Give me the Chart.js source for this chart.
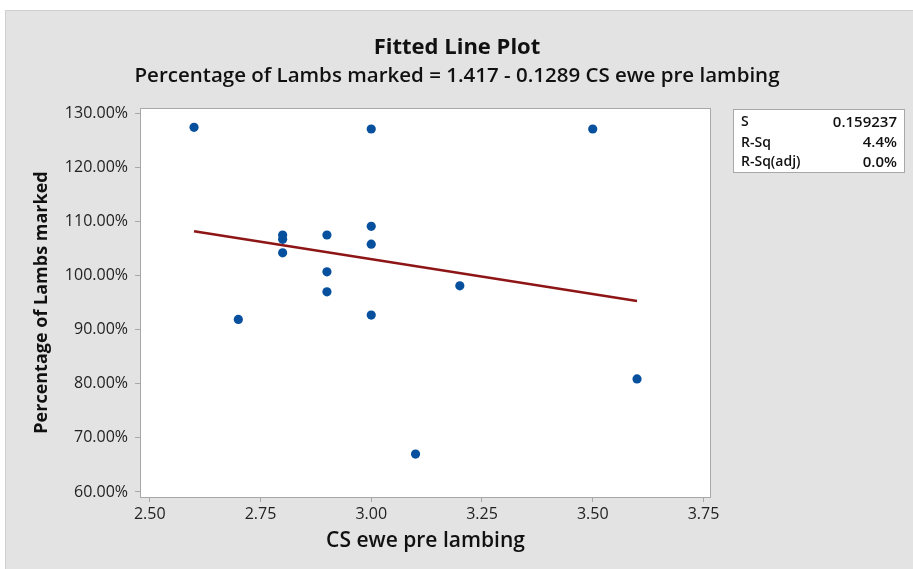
<!DOCTYPE html>
<html>
<head>
<meta charset="utf-8">
<script src="https://cdn.jsdelivr.net/npm/chart.js@4/dist/chart.umd.min.js"></script>
<style>
  html, body { margin: 0; padding: 0; background: #ffffff; }
  #c { display: block; }
</style>
</head>
<body>
<canvas id="c" width="913" height="569"></canvas>
<script>
// Condition score of ewes before lambing vs. share of lambs marked
const csEwe = [2.6, 2.7, 2.8, 2.8, 2.8, 2.9, 2.9, 2.9, 3.0, 3.0, 3.0, 3.0, 3.1, 3.2, 3.5, 3.6];
const lambsMarked = [1.274, 0.919, 1.075, 1.067, 1.042, 1.075, 1.007, 0.970, 1.271, 1.091, 1.058, 0.927, 0.670, 0.981, 1.271, 0.809];

// Regression line coefficients
const fitIntercept = 1.417;
const fitSlope = -0.1289;

// Axis ticks
const xTicks = [2.5, 2.75, 3.0, 3.25, 3.5, 3.75];
const yTicks = [0.6, 0.7, 0.8, 0.9, 1.0, 1.1, 1.2, 1.3];

// Summary statistics box
const statNames = ['S', 'R-Sq', 'R-Sq(adj)'];
const statValues = ['0.159237', '4.4%', '0.0%'];

const FONT = '"Open Sans", "Noto Sans", sans-serif';
const xName = 'CS ewe pre lambing';
const yName = 'Percentage of Lambs marked';

const points = csEwe.map((x, i) => ({ x: x, y: lambsMarked[i] }));
const xLo = Math.min(...csEwe), xHi = Math.max(...csEwe);
const fitLine = [xLo, xHi].map(x => ({ x: x, y: fitIntercept + fitSlope * x }));

const framePlugin = {
  id: 'frame',
  beforeDraw(chart) {
    const ctx = chart.ctx, a = chart.chartArea;
    ctx.save();
    ctx.fillStyle = '#ffffff';
    ctx.fillRect(0, 0, chart.width, chart.height);
    ctx.fillStyle = '#e3e3e3';
    ctx.fillRect(5, 10, chart.width - 5, chart.height - 10);
    ctx.strokeStyle = '#cfcfcf';
    ctx.lineWidth = 1;
    ctx.beginPath();
    ctx.moveTo(5.5, chart.height);
    ctx.lineTo(5.5, 10.5);
    ctx.lineTo(chart.width, 10.5);
    ctx.stroke();
    ctx.fillStyle = '#ffffff';
    ctx.fillRect(a.left, a.top, a.right - a.left, a.bottom - a.top);
    ctx.restore();
  },
  beforeDatasetsDraw(chart) {
    const ctx = chart.ctx, a = chart.chartArea;
    ctx.save();
    ctx.strokeStyle = '#a8a8a8';
    ctx.lineWidth = 1;
    ctx.strokeRect(a.left + 0.5, a.top + 0.5, a.right - a.left - 1, a.bottom - a.top);
    ctx.restore();
  },
  afterDraw(chart) {
    const ctx = chart.ctx;
    ctx.save();
    ctx.fillStyle = '#111111';
    ctx.textAlign = 'center';
    ctx.textBaseline = 'middle';
    ctx.font = 'bold 22px ' + FONT;
    ctx.fillText('Fitted Line Plot', 457, 48);
    ctx.font = '600 20.5px ' + FONT;
    const sign = fitSlope < 0 ? ' - ' : ' + ';
    ctx.fillText(yName + ' = ' + fitIntercept.toFixed(3) + sign + Math.abs(fitSlope).toFixed(4) + ' ' + xName, 457, 76);

    // statistics box
    ctx.fillStyle = '#ffffff';
    ctx.fillRect(733, 109, 171, 64);
    ctx.strokeStyle = '#a8a8a8';
    ctx.lineWidth = 1;
    ctx.strokeRect(733.5, 109.5, 171, 63);
    ctx.fillStyle = '#111111';
    const rows = [122.5, 143, 162.5];
    statNames.forEach((n, i) => {
      ctx.font = '600 14px ' + FONT;
      ctx.textAlign = 'left';
      ctx.fillText(n, 741, rows[i]);
      ctx.font = '600 15px ' + FONT;
      ctx.textAlign = 'right';
      ctx.fillText(statValues[i], 897, rows[i]);
    });
    ctx.restore();
  }
};

new Chart(document.getElementById('c'), {
  type: 'scatter',
  data: {
    datasets: [
      {
        type: 'line',
        data: fitLine,
        borderColor: '#8e1515',
        borderWidth: 2.5,
        pointRadius: 0,
        fill: false,
        order: 2
      },
      {
        data: points,
        backgroundColor: '#07509e',
        borderWidth: 0,
        pointRadius: 4.6,
        order: 1
      }
    ]
  },
  options: {
    responsive: false,
    animation: false,
    devicePixelRatio: 1,
    layout: { padding: { left: 0, top: 108, right: 202, bottom: 0 } },
    plugins: { legend: { display: false }, tooltip: { enabled: false } },
    scales: {
      x: {
        type: 'linear',
        min: 2.478,
        max: 3.767,
        afterBuildTicks(s) { s.ticks = xTicks.map(v => ({ value: v })); },
        afterFit(s) { s.height = 72; },
        ticks: {
          callback: v => Number(v).toFixed(2),
          color: '#222222',
          font: { family: FONT, size: 16 },
          padding: 3,
          maxRotation: 0,
          autoSkip: false
        },
        grid: { drawOnChartArea: false, drawTicks: true, tickLength: 5, color: '#a8a8a8' },
        border: { display: false },
        title: {
          display: true,
          text: xName,
          color: '#111111',
          font: { family: FONT, size: 21, weight: '600' },
          padding: { top: 0, bottom: 15 }
        }
      },
      y: {
        type: 'linear',
        min: 0.5907,
        max: 1.3098,
        afterBuildTicks(s) { s.ticks = yTicks.map(v => ({ value: v })); },
        afterFit(s) { s.width = 140; },
        ticks: {
          callback: v => (Number(v) * 100).toFixed(2) + '%',
          color: '#222222',
          font: { family: FONT, size: 16 },
          padding: 7,
          autoSkip: false
        },
        grid: { drawOnChartArea: false, drawTicks: true, tickLength: 5, color: '#a8a8a8' },
        border: { display: false },
        title: {
          display: true,
          text: yName,
          color: '#111111',
          font: { family: FONT, size: 18, weight: 'bold' },
          padding: { top: 31, bottom: 0 }
        }
      }
    }
  },
  plugins: [framePlugin]
});
</script>
</body>
</html>
